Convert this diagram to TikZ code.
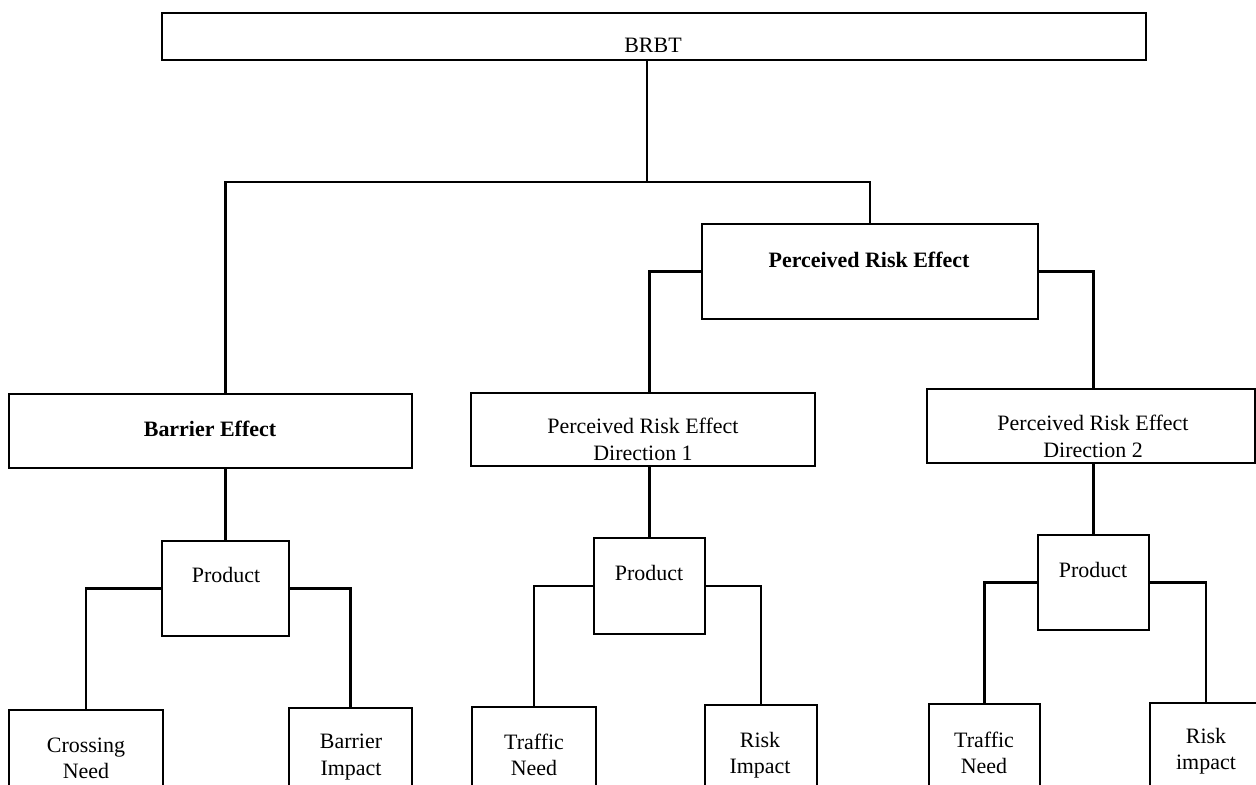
\documentclass[tikz,border=0pt]{standalone}
\usepackage{fontspec}
\setmainfont{Liberation Serif}
\begin{document}
\begin{tikzpicture}[x=0.02cm,y=-0.02cm,
  box/.style={draw,line width=1.4pt,inner sep=0pt,outer sep=0pt},
  lbl/.style={inner sep=0pt,align=center,font=\fontsize{12.5}{15}\selectfont},
  blbl/.style={lbl,font=\fontsize{12.5}{15}\selectfont\bfseries},
  wire/.style={line width=1.3pt}]
\useasboundingbox (0,0) rectangle (1256,784);
\clip (0,0) rectangle (1256,784);

% boxes
\node[box,minimum width=19.68cm,minimum height=0.94cm] (brbt) at (654,36.5) {};
\node[box,minimum width=6.72cm,minimum height=1.90cm] (pre) at (870,271.5) {};
\node[box,minimum width=8.06cm,minimum height=1.48cm] (barrier) at (210.5,431) {};
\node[box,minimum width=6.88cm,minimum height=1.46cm] (dir1) at (643,429.5) {};
\node[box,minimum width=6.56cm,minimum height=1.48cm] (dir2) at (1091,426) {};
\node[box,minimum width=2.54cm,minimum height=1.90cm] (prod1) at (225.5,588.5) {};
\node[box,minimum width=2.22cm,minimum height=1.92cm] (prod2) at (649.5,586) {};
\node[box,minimum width=2.22cm,minimum height=1.90cm] (prod3) at (1093.5,582.5) {};
\node[box,minimum width=3.08cm,minimum height=1.64cm] (cross) at (86,751) {};
\node[box,minimum width=2.46cm,minimum height=1.68cm] (bimp) at (350.5,750) {};
\node[box,minimum width=2.48cm,minimum height=1.70cm] (traf1) at (534,749.5) {};
\node[box,minimum width=2.24cm,minimum height=1.74cm] (risk1) at (761,748.5) {};
\node[box,minimum width=2.22cm,minimum height=1.76cm] (traf2) at (984.5,748) {};
\node[box,minimum width=2.24cm,minimum height=1.78cm] (risk2) at (1206,747.5) {};

% texts
\node[lbl] (t-brbt) at (653,45) {BRBT};
\node[blbl] (t-pre) at (869,260) {Perceived Risk Effect};
\node[blbl] (t-barrier) at (210,429) {Barrier Effect};
\node[lbl] (t-dir1) at (643,439.5) {Perceived Risk Effect\\Direction 1};
\node[lbl] (t-dir2) at (1093,436.5) {Perceived Risk Effect\\Direction 2};
\node[lbl] (t-prod1) at (226,575) {Product};
\node[lbl] (t-prod2) at (649,573) {Product};
\node[lbl] (t-prod3) at (1093,570) {Product};
\node[lbl] (t-cross) at (86,758.5) {Crossing\\Need};
\node[lbl] (t-bimp) at (351,757) {Barrier\\Impact};
\node[lbl] (t-traf1) at (534,755) {Traffic\\Need};
\node[lbl] (t-risk1) at (760,755) {Risk\\Impact};
\node[lbl] (t-traf2) at (984,753) {Traffic\\Need};
\node[lbl] (t-risk2) at (1206,751) {Risk\\impact};

% connectors
\coordinate (bus) at (647,182);
\draw[wire] (brbt.south -| bus) -- (bus);
\draw[wire] (barrier.north -| prod1.north) |- (bus) -| (pre.north);
\draw[wire] (pre.west) -| (dir1.north -| prod2.north);
\draw[wire] (pre.east) -| (dir2.north -| prod3.north);
\draw[wire] (barrier.south -| prod1.north) -- (prod1.north);
\draw[wire] (dir1.south -| prod2.north) -- (prod2.north);
\draw[wire] (dir2.south -| prod3.north) -- (prod3.north);
\draw[wire] (prod1.west) -| (cross.north);
\draw[wire] (prod1.east) -| (bimp.north);
\draw[wire] (prod2.west) -| (traf1.north);
\draw[wire] (prod2.east) -| (risk1.north);
\draw[wire] (prod3.west) -| (traf2.north);
\draw[wire] (prod3.east) -| (risk2.north);
\end{tikzpicture}
\end{document}
